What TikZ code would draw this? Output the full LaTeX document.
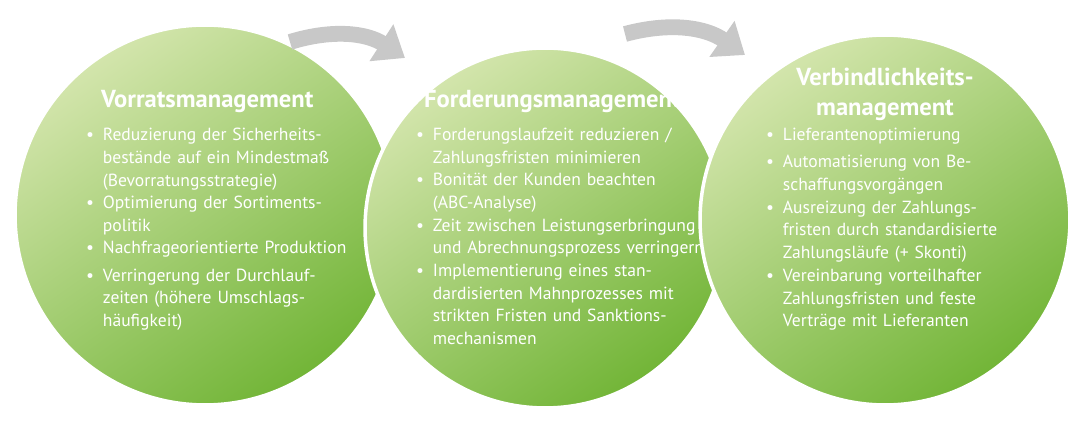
\documentclass[tikz,border=0pt]{standalone}
\usepackage{fontspec}
\setmainfont{PT Sans}
\usetikzlibrary{arrows.meta,positioning}
\definecolor{lightgreen}{HTML}{D3E5AC}
\definecolor{darkgreen}{HTML}{72B537}
\definecolor{arrowgray}{HTML}{C8C8C8}
\newcommand{\itm}[1]{\textbullet\hspace{0.5em}\parbox[t]{5.8cm}{\raggedright\hyphenpenalty=10000 #1}\par\vspace{2.5pt}}
\begin{document}
\begin{tikzpicture}[
    x=0.02cm, y=-0.02cm,
    phase/.style={circle,draw=white,line width=2pt,inner sep=0pt,
      top color=lightgreen,bottom color=darkgreen,shading angle=35},
    title/.style={text=white,font=\fontsize{14}{17}\selectfont\bfseries,anchor=north west},
    items/.style={text=white,font=\fontsize{10}{13}\selectfont,anchor=north west,
      text width=6.3cm,align=left},
    flow/.style={arrowgray,line width=9pt,-{Triangle[length=16pt,width=24pt]}}
]
\useasboundingbox (0,0) rectangle (1076,425);

% Phases
\node[phase,minimum size=7.6cm] (vorrat) at (205,215) {};
\node[phase,minimum size=7.2cm] (forder) at (545,228) {};
\node[phase,minimum size=7.4cm] (verbind) at (885,220) {};

% Arrows between phases
\coordinate (a1) at (290,42);
\coordinate (b1) at (405,58);
\coordinate (a2) at (625,34);
\coordinate (b2) at (745,55);
\draw[flow] (a1) to[bend left=25] (b1);
\draw[flow] (a2) to[bend left=25] (b2);

% Titles
\node[title] (t1) at (95,84) {Vorratsmanagement};
\node[title] (t2) at (418,84) {Forderungsmanagement};
\node[title,align=center,anchor=north] (t3) at (885,62) {Verbindlichkeits-\\management};

% Bullet lists
\node[items] (l1) at (80,122) {%
\itm{Reduzierung der Sicherheits-\\bestände auf ein Mindestmaß\\(Bevorratungsstrategie)}
\itm{Optimierung der Sortiments-\\politik}
\itm{Nachfrageorientierte Produktion}
\itm{Verringerung der Durchlauf-\\zeiten (höhere Umschlags-\\häufigkeit)}};
\node[items] (l2) at (410,122) {%
\itm{Forderungslaufzeit reduzieren /\\Zahlungsfristen minimieren}
\itm{Bonität der Kunden beachten\\(ABC-Analyse)}
\itm{Zeit zwischen Leistungserbringung\\und Abrechnungsprozess verringern}
\itm{Implementierung eines stan-\\dardisierten Mahnprozesses mit\\strikten Fristen und Sanktions-\\mechanismen}};
\node[items] (l3) at (760,122) {%
\itm{Lieferantenoptimierung}
\itm{Automatisierung von Be-\\schaffungsvorgängen}
\itm{Ausreizung der Zahlungs-\\fristen durch standardisierte\\Zahlungsläufe (+ Skonti)}
\itm{Vereinbarung vorteilhafter\\Zahlungsfristen und feste\\Verträge mit Lieferanten}};
\end{tikzpicture}
\end{document}
